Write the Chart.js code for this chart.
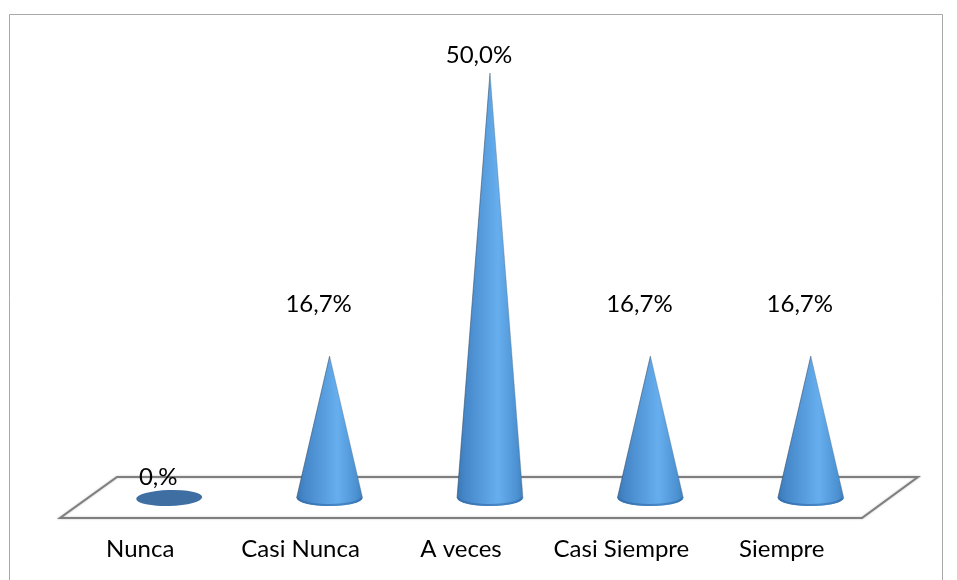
<!DOCTYPE html>
<html>
<head>
<meta charset="utf-8">
<script src="https://cdn.jsdelivr.net/npm/chart.js@4"></script>
<style>
  html, body { margin: 0; background: #fff; }
  #wrap { width: 957px; height: 580px; }
</style>
</head>
<body>
<div id="wrap"><canvas id="chart" width="957" height="580"></canvas></div>
<script>
const categories = ['Nunca', 'Casi Nunca', 'A veces', 'Casi Siempre', 'Siempre'];
const percentValues = [0, 16.7, 50, 16.7, 16.7];
const valueLabels = ['0,%', '16,7%', '50,0%', '16,7%', '16,7%'];
const labelLift = [21, 52, 18, 52, 52];

const frame = { left: 9.5, top: 14.5, right: 942.5 };
const coneRx = 33;
const coneRy = 8;
const labelShift = -11;

const framePlugin = {
  id: 'frame',
  beforeDraw(chart) {
    const { ctx, height } = chart;
    ctx.save();
    ctx.strokeStyle = '#a8a8a8';
    ctx.lineWidth = 1;
    ctx.beginPath();
    ctx.moveTo(frame.left, height);
    ctx.lineTo(frame.left, frame.top);
    ctx.lineTo(frame.right, frame.top);
    ctx.lineTo(frame.right, height);
    ctx.stroke();
    ctx.restore();
  },
};

// slanted floor the cones stand on
const floorPlugin = {
  id: 'floor',
  beforeDatasetsDraw(chart) {
    const { ctx, chartArea: a } = chart;
    ctx.save();
    ctx.beginPath();
    ctx.moveTo(a.left - 29, a.bottom + 20);
    ctx.lineTo(a.right - 29, a.bottom + 20);
    ctx.lineTo(a.right + 27, a.bottom - 21);
    ctx.lineTo(a.left + 28, a.bottom - 21);
    ctx.closePath();
    ctx.fillStyle = '#fff';
    ctx.fill();
    ctx.strokeStyle = '#7f7f7f';
    ctx.lineWidth = 2;
    ctx.shadowColor = 'rgba(120,120,120,0.5)';
    ctx.shadowBlur = 2;
    ctx.stroke();
    ctx.restore();
  },
};

function drawCone(ctx, x, top, base) {
  if (base - top < 1) {
    ctx.beginPath();
    ctx.ellipse(x, base, coneRx, coneRy, -0.03, 0, Math.PI * 2);
    ctx.fillStyle = '#3f6ea3';
    ctx.fill();
    return;
  }
  const grad = ctx.createLinearGradient(x - coneRx, 0, x + coneRx, 0);
  grad.addColorStop(0, '#3a78b6');
  grad.addColorStop(0.12, '#4587c8');
  grad.addColorStop(0.5, '#5ea5e6');
  grad.addColorStop(0.62, '#67aeee');
  grad.addColorStop(0.9, '#4d93d4');
  grad.addColorStop(1, '#4080bc');
  ctx.beginPath();
  ctx.moveTo(x - coneRx, base);
  ctx.lineTo(x, top);
  ctx.lineTo(x + coneRx, base);
  ctx.ellipse(x, base, coneRx, coneRy, 0, 0, Math.PI);
  ctx.closePath();
  ctx.fillStyle = grad;
  ctx.fill();

  // dark edge along the sides, and the rim at the foot
  ctx.lineWidth = 1;
  ctx.strokeStyle = 'rgba(50,70,95,0.55)';
  ctx.beginPath();
  ctx.moveTo(x - coneRx, base);
  ctx.lineTo(x, top);
  ctx.stroke();
  ctx.strokeStyle = 'rgba(80,100,120,0.35)';
  ctx.beginPath();
  ctx.moveTo(x, top);
  ctx.lineTo(x + coneRx, base);
  ctx.stroke();
  ctx.lineWidth = 2;
  ctx.strokeStyle = 'rgba(45,100,160,0.55)';
  ctx.beginPath();
  ctx.ellipse(x, base - 1, coneRx - 1, coneRy, 0, 0.1, Math.PI - 0.1);
  ctx.stroke();
}

const conePlugin = {
  id: 'cones',
  afterDatasetsDraw(chart) {
    const { ctx } = chart;
    ctx.save();
    chart.getDatasetMeta(0).data.forEach((bar) => drawCone(ctx, bar.x, bar.y, bar.base));
    ctx.fillStyle = '#000';
    ctx.font = '24px Lato';
    ctx.textAlign = 'center';
    ctx.textBaseline = 'middle';
    chart.getDatasetMeta(0).data.forEach((bar, i) => {
      ctx.fillText(valueLabels[i], bar.x + labelShift, bar.y - labelLift[i]);
    });
    ctx.restore();
  },
};

new Chart(document.getElementById('chart'), {
  type: 'bar',
  data: {
    labels: categories,
    datasets: [{ data: percentValues, backgroundColor: 'transparent', borderWidth: 0 }],
  },
  options: {
    responsive: false,
    animation: false,
    layout: { padding: { left: 89, right: 66, top: 73, bottom: 0 } },
    plugins: { legend: { display: false }, tooltip: { enabled: false } },
    scales: {
      x: {
        grid: { display: false },
        border: { display: false },
        ticks: {
          color: '#000',
          font: { family: 'Lato', size: 24 },
          padding: 29,
          labelOffset: -29,
          maxRotation: 0,
          autoSkip: false,
        },
        afterFit(axis) { axis.height = 82; },
      },
      y: { display: false, min: 0, max: 50 },
    },
  },
  plugins: [framePlugin, floorPlugin, conePlugin],
});
</script>
</body>
</html>
